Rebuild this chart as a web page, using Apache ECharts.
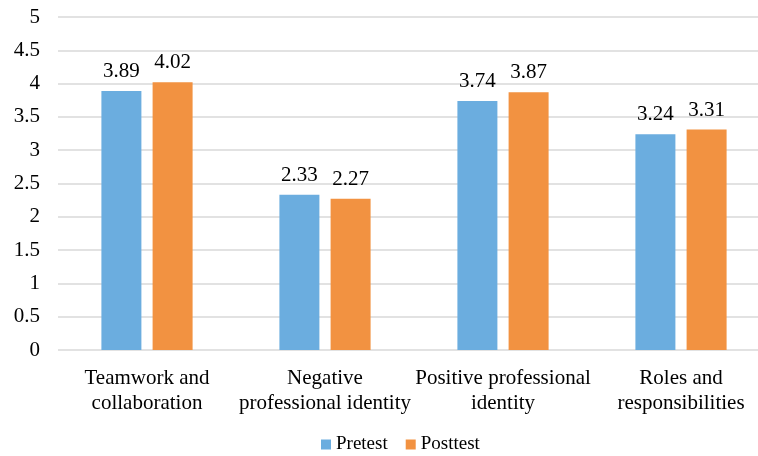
<!DOCTYPE html>
<html>
<head>
<meta charset="utf-8">
<script src="https://cdn.jsdelivr.net/npm/echarts@6/dist/echarts.min.js"></script>
<style>
  html, body { margin: 0; padding: 0; background: #fff; }
  #chart { width: 758px; height: 456px; }
</style>
</head>
<body>
<div id="chart"></div>
<script>
const categories = ['Teamwork and\ncollaboration', 'Negative\nprofessional identity', 'Positive professional\nidentity', 'Roles and\nresponsibilities'];
const pretest = [3.89, 2.33, 3.74, 3.24];
const posttest = [4.02, 2.27, 3.87, 3.31];
const yTicks = { min: 0, max: 5, interval: 0.5 };

const serif = '"Liberation Serif", "DejaVu Serif", serif';
const mychart = echarts.init(document.getElementById('chart'));
const option = {
    animation: false,
    grid: {
        top: 17,
        left: 58,
        width: 712,
        height: 333,
        outerBoundsMode: 'none',
        containLabel: false
    },
    legend: {
        data: ['Pretest', 'Posttest'],
        top: 430,
        left: 316,
        icon: 'rect',
        itemWidth: 10,
        itemHeight: 10,
        itemGap: 18,
        textStyle: {
            fontFamily: serif,
            fontSize: 19,
            color: '#000'
        }
    },
    xAxis: {
        type: 'category',
        data: categories,
        axisLine: { show: false },
        axisTick: { show: false },
        axisLabel: {
            margin: 16,
            fontFamily: serif,
            fontSize: 21,
            lineHeight: 25,
            color: '#000',
            interval: 0
        }
    },
    yAxis: {
        type: 'value',
        min: yTicks.min,
        max: yTicks.max,
        interval: yTicks.interval,
        axisLine: { show: false },
        axisTick: { show: false },
        splitLine: { lineStyle: { color: '#D9D9D9', width: 1.5 } },
        axisLabel: {
            margin: 18,
            fontFamily: serif,
            fontSize: 21,
            color: '#000'
        }
    },
    series: [
        {
            name: 'Pretest',
            type: 'bar',
            barWidth: 40,
            barGap: '28%',
            itemStyle: { color: '#6BADDF' },
            label: {
                show: true,
                position: 'top',
                distance: 9,
                fontFamily: serif,
                fontSize: 21,
                color: '#000',
                formatter: p => p.value.toFixed(2)
            },
            data: pretest
        },
        {
            name: 'Posttest',
            type: 'bar',
            barWidth: 40,
            itemStyle: { color: '#F29241' },
            label: {
                show: true,
                position: 'top',
                distance: 9,
                fontFamily: serif,
                fontSize: 21,
                color: '#000',
                formatter: p => p.value.toFixed(2)
            },
            data: posttest
        }
    ]
};
mychart.setOption(option);
</script>
</body>
</html>
